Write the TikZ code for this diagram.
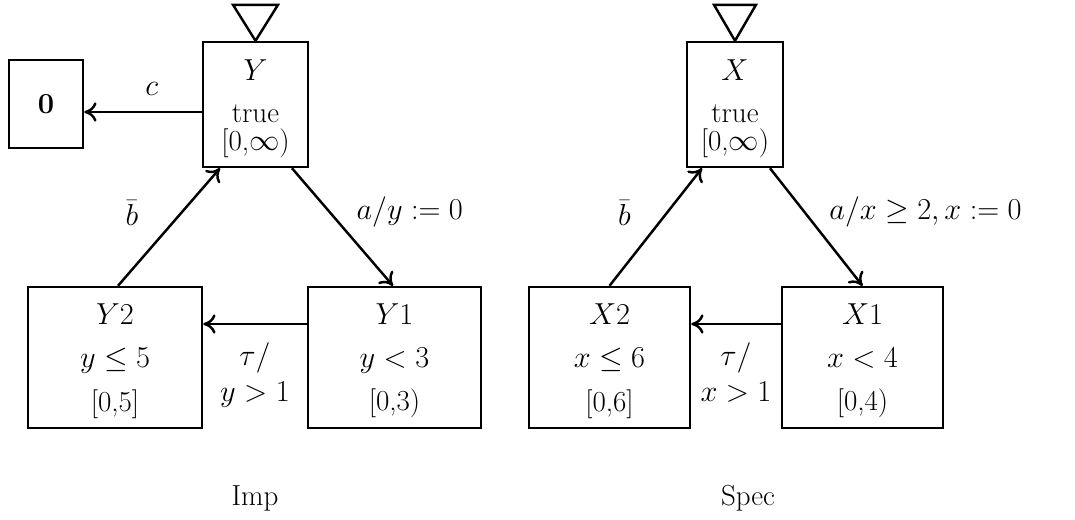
\documentclass[tikz,border=0pt]{standalone}
\usepackage{amsmath, amssymb}
\usetikzlibrary{arrows.meta, positioning}

\begin{document}
\begin{tikzpicture}[font=\fontsize{16.5}{22}\selectfont, line width=1.4pt,
    state/.style={draw, rectangle, align=center, inner sep=0pt},
    lbl/.style={inner sep=0pt},
    arr/.style={-{To[length=7pt, width=11pt]}}]
    \useasboundingbox (0,0) rectangle (21.5,-10.38);

    % Imp
    \node (Y) [state, minimum width=2.1cm, minimum height=2.5cm] at (5.11,-2.09) {\rule{0pt}{17pt}$Y$\\[2pt] true\\[-6pt] [0,$\infty$)};
    \node (zero) [state, minimum width=1.48cm, minimum height=1.76cm] at (0.92,-2.08) {\textbf{0}};
    \node (Y2) [state, minimum width=3.48cm, minimum height=2.82cm] at (2.30,-7.15) {\rule{0pt}{16pt}$Y2$\\[2pt] $y \leq 5$\\[3pt] [0,5]};
    \node (Y1) [state, minimum width=3.46cm, minimum height=2.82cm] at (7.89,-7.15) {\rule{0pt}{16pt}$Y1$\\[2pt] $y < 3$\\[3pt] [0,3)};
    \node (imp) at (5.10,-9.96) {Imp};

    \draw (Y.north) -- ++(-0.45,0.72) -- ++(0.9,0) -- cycle;
    \coordinate (cY) at ([yshift=-0.15cm]Y.west);
    \draw [arr] (cY) -- node[lbl, pos=0.425, above=0.31cm] {$c$} (cY -| zero.east);
    \draw [arr] ([xshift=0.06cm]Y2.north) -- node[lbl, pos=0.617, left=0.83cm] {$\bar{b}$} ([xshift=-0.71cm]Y.south);
    \draw [arr] ([xshift=0.73cm]Y.south) -- node[lbl, pos=0.375, right=0.51cm] {$a/y := 0$} ([xshift=-0.03cm]Y1.north);
    \coordinate (tY) at ([yshift=0.67cm]Y1.west);
    \draw [arr] (tY) -- node[lbl, below=0.34cm, align=center] {$\tau/$\\[-1pt] $y > 1$} (tY -| Y2.east);

    % Spec
    \node (X) [state, minimum width=1.92cm, minimum height=2.5cm] at (14.70,-2.09) {\rule{0pt}{17pt}$X$\\[2pt] true\\[-6pt] [0,$\infty$)};
    \node (X2) [state, minimum width=3.22cm, minimum height=2.82cm] at (12.19,-7.15) {\rule{0pt}{16pt}$X2$\\[2pt] $x \leq 6$\\[3pt] [0,6]};
    \node (X1) [state, minimum width=3.22cm, minimum height=2.82cm] at (17.25,-7.15) {\rule{0pt}{16pt}$X1$\\[2pt] $x < 4$\\[3pt] [0,4)};
    \node (spec) at (14.96,-9.96) {Spec};

    \draw (X.north) -- ++(-0.42,0.72) -- ++(0.84,0) -- cycle;
    \draw [arr] (X2.north) -- node[lbl, pos=0.617, left=0.69cm] {$\bar{b}$} ([xshift=-0.66cm]X.south);
    \draw [arr] ([xshift=0.70cm]X.south) -- node[lbl, pos=0.375, right=0.47cm] {$a/x \geq 2, x := 0$} (X1.north);
    \coordinate (tX) at ([yshift=0.67cm]X1.west);
    \draw [arr] (tX) -- node[lbl, below=0.34cm, align=center] {$\tau/$\\[-1pt] $x > 1$} (tX -| X2.east);
\end{tikzpicture}
\end{document}
